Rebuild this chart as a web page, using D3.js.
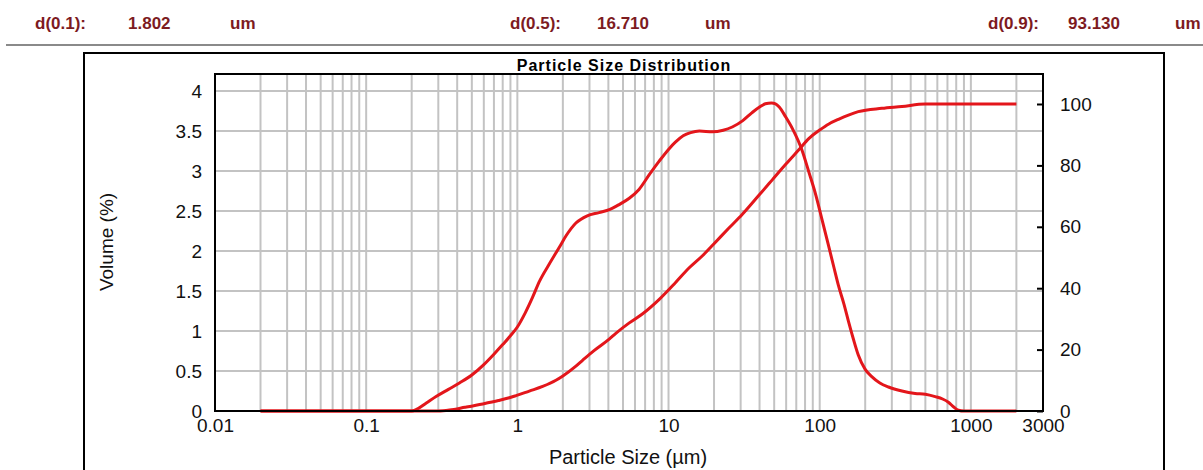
<!DOCTYPE html>
<html>
<head>
<meta charset="utf-8">
<script src="https://cdn.jsdelivr.net/npm/d3@7"></script>
<style>
  body { margin: 0; background: #fff; }
  svg { display: block; font-family: Arial, "Liberation Sans", sans-serif; }
</style>
</head>
<body>
<svg id="chart" width="1203" height="470"></svg>
<script>
// summary values in the header
const statLabels = ["d(0.1):", "d(0.5):", "d(0.9):"];
const statValues = ["1.802", "16.710", "93.130"];
const statUnits = ["um", "um", "um"];

// volume density curve (left axis)
const densSize = [0.02, 0.1, 0.2, 0.215, 0.25, 0.29, 0.35, 0.414, 0.5, 0.6, 0.7, 0.8, 0.9, 1.0,
    1.13, 1.26, 1.4, 1.63, 1.9, 2.1, 2.44, 2.9, 3.47, 4.1, 4.71, 5.5, 6.38, 7.5, 8.65, 10, 11.1,
    12.5, 14, 16, 19.5, 23, 26.4, 31, 35.7, 40, 43.7, 48, 51, 54, 59.4, 66, 76.4, 85, 93.6, 104,
    114, 124, 133, 145, 155, 167, 180, 200, 221, 250, 285, 350, 428, 500, 581, 650, 710, 770, 827, 900, 2000];
const densVol = [0, 0, 0, 0.02, 0.10, 0.18, 0.27, 0.35, 0.45, 0.58, 0.71, 0.83, 0.94, 1.05,
    1.23, 1.42, 1.62, 1.84, 2.05, 2.19, 2.35, 2.44, 2.48, 2.52, 2.58, 2.66, 2.77, 2.96, 3.12, 3.27, 3.36,
    3.44, 3.48, 3.50, 3.49, 3.51, 3.55, 3.63, 3.73, 3.80, 3.84, 3.85, 3.84, 3.80, 3.68, 3.53, 3.26, 2.98, 2.72, 2.38,
    2.08, 1.80, 1.57, 1.33, 1.12, 0.90, 0.70, 0.52, 0.43, 0.35, 0.30, 0.25, 0.22, 0.21, 0.18, 0.15, 0.11, 0.05, 0.01, 0, 0];

// cumulative curve (right axis)
const cumSize = [0.02, 0.3, 0.356, 0.45, 0.59, 0.75, 0.885, 0.98, 1.2, 1.47, 1.8, 2.0, 2.44, 2.7, 3.2,
    4.05, 4.48, 5.5, 6.71, 8.65, 11.1, 13.6, 16.7, 20, 25, 30.7, 40, 48.4, 60, 72.5, 85, 100, 115,
    133, 155, 180, 258, 350, 498, 2000];
const cumVol = [0, 0, 0.3, 1.2, 2.3, 3.4, 4.3, 5.0, 6.5, 8.0, 10.0, 11.4, 14.6, 16.5, 19.6,
    23.4, 25.3, 28.7, 31.6, 36.3, 41.8, 46.5, 50.5, 54.5, 59.5, 64, 70.5, 75.2, 80.5, 85, 88.8, 91.5, 93.5,
    95, 96.4, 97.5, 98.6, 99.2, 100, 100];

const xTicks = [0.01, 0.1, 1, 10, 100, 1000, 3000];
const leftTicks = [0, 0.5, 1, 1.5, 2, 2.5, 3, 3.5, 4];
const rightTicks = [0, 20, 40, 60, 80, 100];

const red = "#e3161b";
const svg = d3.select("#chart");

// header
const statX = [[35, 128, 230], [510, 597, 705], [988, 1068, 1175]];
const header = svg.append("g")
    .attr("font-size", 17)
    .attr("font-weight", "bold")
    .attr("fill", "#7d1b1f");
statLabels.forEach((lab, i) => {
    [lab, statValues[i], statUnits[i]].forEach((t, j) => {
        header.append("text").attr("x", statX[i][j]).attr("y", 29).text(t);
    });
});
svg.append("line")
    .attr("x1", 6).attr("x2", 1203).attr("y1", 45).attr("y2", 45)
    .attr("stroke", "#8a8a8a").attr("stroke-width", 2);

// outer frame
svg.append("rect")
    .attr("x", 84).attr("y", 53).attr("width", 1080).attr("height", 440)
    .attr("fill", "none").attr("stroke", "#000").attr("stroke-width", 2);

const pLeft = 215, pRight = 1043, pTop = 74, pBottom = 411;

const x = d3.scaleLog().domain([0.01, 3000]).range([pLeft, pRight]);
const yL = d3.scaleLinear().domain([0, 4.2125]).range([pBottom, pTop]);
const yR = d3.scaleLinear().domain([0, 109.77]).range([pBottom, pTop]);

// grid
const gridVals = [];
[0.01, 0.1, 1, 10, 100, 1000].forEach(dec => {
    for (let m = 1; m <= 9; m++) {
        const v = dec * m;
        if (v > 0.01 && v < 3000) gridVals.push(v);
    }
});
const grid = svg.append("g").attr("stroke", "#c3c3c3").attr("stroke-width", 2);
grid.selectAll("line.v").data(gridVals).enter().append("line")
    .attr("class", "v")
    .attr("x1", d => x(d)).attr("x2", d => x(d))
    .attr("y1", pTop).attr("y2", pBottom);
grid.selectAll("line.h").data(leftTicks.filter(d => d > 0)).enter().append("line")
    .attr("class", "h")
    .attr("x1", pLeft).attr("x2", pRight)
    .attr("y1", d => yL(d)).attr("y2", d => yL(d));

// curves
const lineDens = d3.line()
    .x((d, i) => x(densSize[i]))
    .y(d => yL(d))
    .curve(d3.curveMonotoneX);
const lineCum = d3.line()
    .x((d, i) => x(cumSize[i]))
    .y(d => yR(d))
    .curve(d3.curveMonotoneX);

svg.append("path").datum(cumVol)
    .attr("d", lineCum)
    .attr("fill", "none").attr("stroke", red).attr("stroke-width", 3);
svg.append("path").datum(densVol)
    .attr("d", lineDens)
    .attr("fill", "none").attr("stroke", red).attr("stroke-width", 3);

// plot frame
svg.append("rect")
    .attr("x", pLeft).attr("y", pTop).attr("width", pRight - pLeft).attr("height", pBottom - pTop)
    .attr("fill", "none").attr("stroke", "#000").attr("stroke-width", 2);

// axes
const axisFont = 19;
const xAxis = svg.append("g")
    .attr("transform", `translate(0,${pBottom})`)
    .call(d3.axisBottom(x).tickValues(xTicks).tickFormat(d => String(d)).tickSize(0).tickPadding(8));
xAxis.select(".domain").remove();
xAxis.selectAll("text").attr("font-size", axisFont).attr("fill", "#111").attr("font-family", "Arial, 'Liberation Sans', sans-serif");

const yAxisL = svg.append("g")
    .attr("transform", `translate(${pLeft},0)`)
    .call(d3.axisLeft(yL).tickValues(leftTicks).tickFormat(d => String(d)).tickSize(0).tickPadding(13));
yAxisL.select(".domain").remove();
yAxisL.selectAll("text").attr("font-size", axisFont).attr("fill", "#111").attr("font-family", "Arial, 'Liberation Sans', sans-serif");

const yAxisR = svg.append("g")
    .attr("transform", `translate(${pRight},0)`)
    .call(d3.axisRight(yR).tickValues(rightTicks).tickFormat(d => String(d)).tickSizeInner(-6).tickSizeOuter(0).tickPadding(17));
yAxisR.select(".domain").remove();
yAxisR.selectAll("line").attr("stroke", "#000").attr("stroke-width", 2);
yAxisR.selectAll("text").attr("font-size", axisFont).attr("fill", "#111").attr("font-family", "Arial, 'Liberation Sans', sans-serif");

// titles
svg.append("text")
    .attr("x", 624).attr("y", 71)
    .attr("text-anchor", "middle")
    .attr("font-size", 16).attr("font-weight", "bold").attr("letter-spacing", 1)
    .text("Particle Size Distribution");

svg.append("text")
    .attr("x", 628).attr("y", 464)
    .attr("text-anchor", "middle")
    .attr("font-size", 20).attr("fill", "#111")
    .text("Particle Size (µm)");

svg.append("text")
    .attr("transform", "translate(113,242) rotate(-90)")
    .attr("text-anchor", "middle")
    .attr("font-size", 19).attr("fill", "#111")
    .text("Volume (%)");
</script>
</body>
</html>
